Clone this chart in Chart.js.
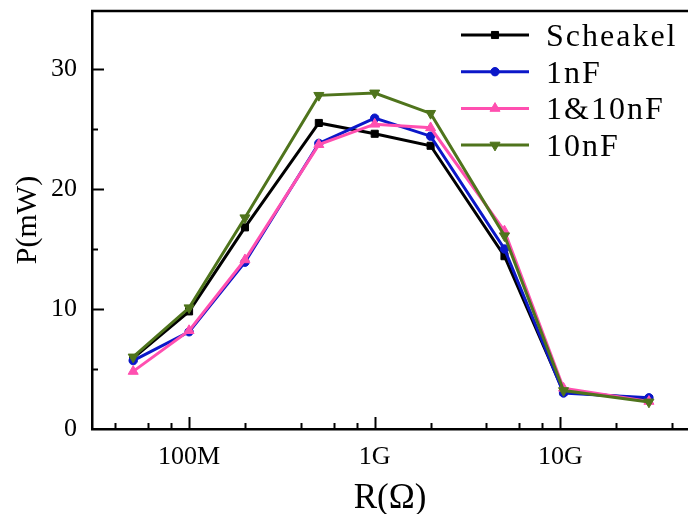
<!DOCTYPE html>
<html>
<head>
<meta charset="utf-8">
<script src="https://cdn.jsdelivr.net/npm/chart.js@4.4.1/dist/chart.umd.min.js"></script>
<style>
  html, body { margin: 0; padding: 0; background: #fff; }
  canvas { display: block; }
</style>
</head>
<body>
<canvas id="chart" width="688" height="514"></canvas>
<script>
// resistance in ohms (log axis)
const resistance = [5e7, 1e8, 2e8, 5e8, 1e9, 2e9, 5e9, 1.04e10, 3e10];

// power in mW
const scheakel = [5.9, 9.8, 16.8, 25.5, 24.6, 23.6, 14.4, 3.1, 2.5];
const oneNF    = [5.7, 8.1, 13.9, 23.8, 25.9, 24.4, 15.0, 3.0, 2.6];
const oneTenNF = [4.8, 8.2, 14.1, 23.7, 25.4, 25.1, 16.5, 3.4, 2.3];
const tenNF    = [6.0, 10.1, 17.6, 27.8, 28.0, 26.3, 16.1, 3.2, 2.25];

const seriesNames = ['Scheakel', '1nF', '1&10nF', '10nF'];
const seriesValues = [scheakel, oneNF, oneTenNF, tenNF];
const seriesColors = ['#000000', '#0b17c9', '#ff4fb0', '#4f741c'];
const seriesMarkers = ['rect', 'circle', 'triangle', 'triangle'];
const markerRotation = [0, 0, 0, 180];
const markerRadius = [5, 4.2, 5.8, 5.8];

const xMajorTicks = [1e8, 1e9, 1e10];
const xMinorTicks = [4e7, 6e7, 8e7, 2e8, 4e8, 6e8, 8e8, 2e9, 4e9, 6e9, 8e9, 2e10, 4e10];
const xTickLabels = { 1e8: '100M', 1e9: '1G', 1e10: '10G' };
const yMajorTicks = [0, 10, 20, 30];
const yMinorTicks = [5, 15, 25];

const serif = "'Liberation Serif', 'Noto Sans CJK SC', serif";

const datasets = seriesNames.map((name, i) => ({
    label: name,
    data: resistance.map((r, j) => ({ x: r, y: seriesValues[i][j] })),
    showLine: true,
    borderColor: seriesColors[i],
    backgroundColor: seriesColors[i],
    borderWidth: 3,
    pointStyle: seriesMarkers[i],
    pointRotation: markerRotation[i],
    pointRadius: markerRadius[i],
    pointBorderWidth: 1,
    order: seriesNames.length - i
}));

const noPad = s => { s.paddingTop = 0; s.paddingBottom = 0; s.paddingLeft = 0; s.paddingRight = 0; };

// inner tick marks (major long, minor short) and top frame line
const frameTicks = {
    id: 'frameTicks',
    afterDraw(chart) {
        const { ctx, chartArea } = chart;
        const x = chart.scales.x, y = chart.scales.y;
        ctx.save();
        ctx.strokeStyle = '#000';
        ctx.lineWidth = 2.5;
        ctx.beginPath();
        ctx.moveTo(chartArea.left - 1, chartArea.top);
        ctx.lineTo(chartArea.right, chartArea.top);
        ctx.stroke();

        ctx.lineWidth = 2;
        const tickX = (vals, len) => vals.forEach(v => {
            const px = Math.round(x.getPixelForValue(v)) + 0.5;
            ctx.beginPath();
            ctx.moveTo(px, chartArea.bottom);
            ctx.lineTo(px, chartArea.bottom - len);
            ctx.stroke();
        });
        const tickY = (vals, len) => vals.forEach(v => {
            const py = Math.round(y.getPixelForValue(v)) + 0.5;
            ctx.beginPath();
            ctx.moveTo(chartArea.left, py);
            ctx.lineTo(chartArea.left + len, py);
            ctx.stroke();
        });
        tickX(xMajorTicks, 12);
        tickX(xMinorTicks, 6);
        tickY(yMajorTicks.slice(1), 12);
        tickY(yMinorTicks, 6);
        ctx.restore();
    }
};

// legend with line segment + marker, like the original
const lineLegend = {
    id: 'lineLegend',
    afterDraw(chart) {
        const { ctx } = chart;
        ctx.save();
        ctx.font = "32px " + serif;
        ctx.letterSpacing = '2px';
        ctx.textBaseline = 'alphabetic';
        ctx.textAlign = 'left';
        chart.data.datasets.forEach((ds, i) => {
            const cy = 35 + i * 36.7;
            ctx.strokeStyle = ds.borderColor;
            ctx.fillStyle = ds.backgroundColor;
            ctx.lineWidth = 3;
            ctx.beginPath();
            ctx.moveTo(461, cy);
            ctx.lineTo(529, cy);
            ctx.stroke();
            ctx.lineWidth = 1;
            Chart.helpers.drawPoint(ctx, {
                pointStyle: ds.pointStyle,
                rotation: ds.pointRotation,
                radius: ds.pointRadius,
                borderWidth: 1
            }, 495, cy);
            ctx.fillStyle = '#000';
            ctx.fillText(ds.label, 546, cy + 11);
        });
        ctx.restore();
    }
};

new Chart(document.getElementById('chart'), {
    type: 'scatter',
    data: { datasets },
    options: {
        responsive: false,
        animation: false,
        devicePixelRatio: 1,
        layout: { autoPadding: false, padding: { top: 11, right: 0, left: 0, bottom: 0 } },
        plugins: {
            legend: { display: false },
            tooltip: { enabled: false }
        },
        elements: { line: { tension: 0 } },
        scales: {
            x: {
                type: 'logarithmic',
                min: 3e7,
                max: 4.87e10,
                afterBuildTicks: s => { s.ticks = xMajorTicks.map(v => ({ value: v })); },
                afterFit: s => { s.height = 85; noPad(s); },
                grid: { display: false, drawTicks: false },
                border: { display: true, color: '#000', width: 2.5 },
                ticks: {
                    padding: 13,
                    color: '#000',
                    font: { family: serif, size: 26 },
                    callback: v => xTickLabels[v] || ''
                },
                title: {
                    display: true,
                    text: 'R(Ω)',
                    color: '#000',
                    font: { family: serif, size: 35, lineHeight: 1 },
                    padding: { top: 0, bottom: -2 }
                }
            },
            y: {
                min: 0,
                max: 34.83,
                afterBuildTicks: s => { s.ticks = yMajorTicks.map(v => ({ value: v })); },
                afterFit: s => { s.width = 92; noPad(s); },
                grid: { display: false, drawTicks: false },
                border: { display: true, color: '#000', width: 2.5 },
                ticks: {
                    padding: 15,
                    color: '#000',
                    font: { family: serif, size: 26 }
                },
                title: {
                    display: true,
                    text: 'P(mW)',
                    color: '#000',
                    font: { family: serif, size: 30, lineHeight: 1 },
                    padding: { top: 13, bottom: 0 }
                }
            }
        }
    },
    plugins: [frameTicks, lineLegend]
});
</script>
</body>
</html>
